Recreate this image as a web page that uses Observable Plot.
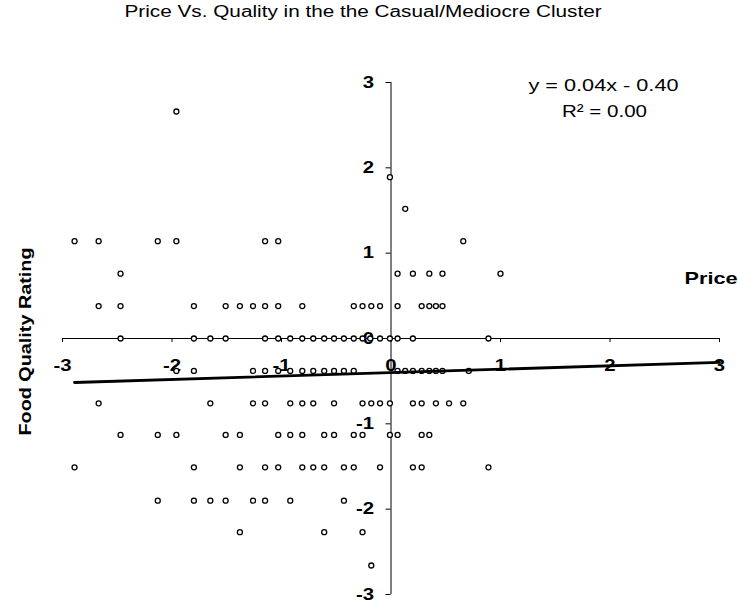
<!DOCTYPE html>
<html><head><meta charset="utf-8">
<script src="https://cdn.jsdelivr.net/npm/d3@7"></script>
<script src="https://cdn.jsdelivr.net/npm/@observablehq/plot@0.6"></script>
<style>
body{margin:0;background:#fff;font-family:"Liberation Sans",Arial,sans-serif;}
#title{height:28px;line-height:24px;width:727px;text-align:center;font-size:16px;color:#000;white-space:nowrap;overflow:visible;}
#title span{display:inline-block;transform-origin:center;}
</style></head><body>
<div id="title"><span>Price Vs. Quality in the the Casual/Mediocre Cluster</span></div>
<div id="chart"></div>
<script>
// Food quality rating levels (rows) and the prices found on each row
const qualityLevels = [2.66, 1.89, 1.52, 1.14, 0.76, 0.38, 0, -0.38, -0.76, -1.13, -1.51, -1.90, -2.27, -2.66];
const pricesByLevel = [
  [-1.96],
  [-0.01],
  [0.13],
  [-2.89, -2.67, -2.13, -1.96, -1.15, -1.03, 0.66],
  [-2.47, 0.06, 0.20, 0.35, 0.47, 1.00],
  [-2.67, -2.47, -1.80, -1.51, -1.38, -1.26, -1.15, -1.03, -0.81, -0.34, -0.26, -0.18, -0.10, 0.06, 0.28, 0.35, 0.41, 0.47],
  [-2.47, -1.80, -1.65, -1.51, -1.15, -1.03, -0.92, -0.81, -0.71, -0.61, -0.52, -0.43, -0.34, -0.26, -0.19, -0.10, -0.01, 0.06, 0.20, 0.89],
  [-1.96, -1.80, -1.26, -1.15, -1.03, -0.92, -0.81, -0.71, -0.61, -0.52, -0.43, -0.34, 0.06, 0.13, 0.20, 0.28, 0.35, 0.41, 0.47, 0.71],
  [-2.67, -1.65, -1.26, -1.15, -0.92, -0.81, -0.71, -0.52, -0.26, -0.18, -0.10, -0.01, 0.20, 0.28, 0.41, 0.53, 0.66],
  [-2.47, -2.13, -1.96, -1.51, -1.38, -1.03, -0.92, -0.81, -0.61, -0.52, -0.34, -0.26, -0.01, 0.06, 0.28, 0.35],
  [-2.89, -1.80, -1.38, -1.15, -1.03, -0.81, -0.71, -0.61, -0.43, -0.34, -0.10, 0.20, 0.28, 0.89],
  [-2.13, -1.80, -1.65, -1.51, -1.26, -1.15, -0.92, -0.43],
  [-1.38, -0.61, -0.26],
  [-0.18]
];
const xTicks = [-3, -2, -1, 0, 1, 2, 3];
const yTicks = [-3, -2, -1, 0, 1, 2, 3];
const trendSlope = 0.04;
const trendIntercept = -0.40;
const trendExtent = [-2.89, 3];
const equationText = "y = 0.04x - 0.40";
const r2Text = "R\u00B2 = 0.00";
const xLabel = "Price";
const yLabel = "Food Quality Rating";

const points = [];
qualityLevels.forEach((q, i) => pricesByLevel[i].forEach(p => points.push({price: p, quality: q})));
const trend = trendExtent.map(x => ({x, y: trendSlope * x + trendIntercept}));

const font = '"Liberation Sans", Arial, sans-serif';
const chart = Plot.plot({
  width: 740, height: 574,
  marginLeft: 62, marginRight: 21, marginTop: 54, marginBottom: 8,
  x: {domain: [-3, 3]},
  y: {domain: [-3, 3]},
  style: {fontFamily: font, background: "white", color: "black"},
  marks: [
    Plot.ruleY([0], {x1: -3, x2: 3, stroke: "black", strokeWidth: 1}),
    Plot.ruleX([0], {y1: -3, y2: 3, stroke: "black", strokeWidth: 1}),
    Plot.axisX(xTicks, {y: 0, anchor: "bottom", tickSize: 4, tickPadding: 17, fontSize: 16, fontWeight: "bold", tickFormat: d => String(d), label: null, stroke: "black"}),
    Plot.axisY(yTicks, {x: 0, anchor: "left", tickSize: 5, tickPadding: 12, fontSize: 16, fontWeight: "bold", tickFormat: d => String(d), label: null, stroke: "black"}),
    Plot.dot(points, {x: "price", y: "quality", r: 2.5, stroke: "black", strokeWidth: 1.3, fill: "white"}),
    Plot.line(trend, {x: "x", y: "y", stroke: "black", strokeWidth: 2.8}),
    Plot.text([equationText], {frameAnchor: "top-right", dx: -116, dy: 3.4, fontSize: 17, textAnchor: "middle", lineAnchor: "middle", fill: "black"}),
    Plot.text([r2Text], {frameAnchor: "top-right", dx: -115, dy: 28.7, fontSize: 17, textAnchor: "middle", lineAnchor: "middle", fill: "black"}),
    Plot.text([xLabel], {frameAnchor: "right", dx: 18, dy: -59.5, fontSize: 17, fontWeight: "bold", textAnchor: "end", lineAnchor: "middle", fill: "black"}),
    Plot.text([yLabel], {frameAnchor: "left", dx: -37, dy: 3, rotate: -90, fontSize: 17, fontWeight: "bold", textAnchor: "middle", lineAnchor: "middle", fill: "black"})
  ]
});
document.getElementById("chart").append(chart);

function stretch(el, target) {
  if (!el) return;
  el.setAttribute("textLength", target);
  el.setAttribute("lengthAdjust", "spacingAndGlyphs");
}
chart.querySelectorAll('g[aria-label="x-axis tick label"] text, g[aria-label="y-axis tick label"] text').forEach(t => {
  stretch(t, (t.getComputedTextLength() * 1.27).toFixed(1));
});
const labels = chart.querySelectorAll('g[aria-label="text"] text');
const targets = [150, 85, 53, 188];
labels.forEach((t, i) => { if (targets[i]) stretch(t, targets[i]); });

const span = document.querySelector("#title span");
const w = span.getBoundingClientRect().width;
span.style.transform = `scaleX(${(477 / w).toFixed(3)})`;
</script>
</body></html>
